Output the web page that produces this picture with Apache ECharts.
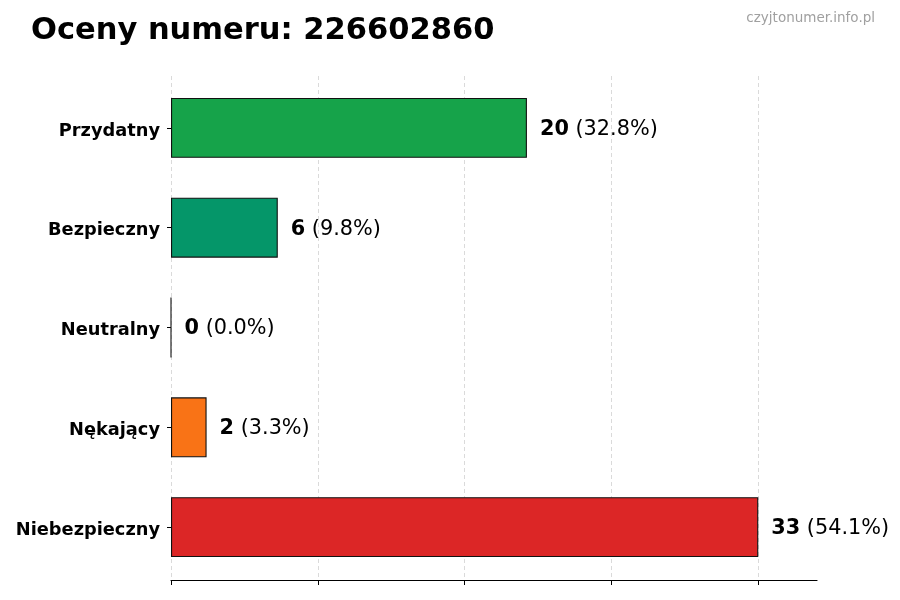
<!DOCTYPE html>
<html>
<head>
<meta charset="utf-8">
<script src="https://cdn.jsdelivr.net/npm/echarts@6/dist/echarts.min.js"></script>
<style>
  html, body { margin: 0; padding: 0; background: #fff; }
  #chart { width: 900px; height: 600px; }
</style>
</head>
<body>
<div id="chart"></div>
<script>
// dane
const categories = ['Przydatny', 'Bezpieczny', 'Neutralny', 'Nękający', 'Niebezpieczny'];
const counts = [20, 6, 0, 2, 33];
const barColors = ['#16a34a', '#059669', '#9ca3af', '#f97316', '#dc2626'];
const titleText = 'Oceny numeru: 226602860';
const siteText = 'czyjtonumer.info.pl';

const total = counts.reduce((a, b) => a + b, 0);
const maxCount = Math.max(...counts);
const axisMax = maxCount * 1.1;
const tickStep = maxCount / 4;

const chart = echarts.init(document.getElementById('chart'), null, { renderer: 'canvas' });

const FONT = '"DejaVu Sans", sans-serif';
const plotLeft = 171;
const plotWidth = 646;

const option = {
  backgroundColor: '#ffffff',
  animation: false,
  textStyle: { fontFamily: FONT },
  title: {
    text: titleText,
    left: 31,
    top: 16,
    padding: 0,
    textStyle: { fontFamily: FONT, fontSize: 30.5, fontWeight: 'bold', color: '#000' }
  },
  graphic: [{
    type: 'text',
    right: 25,
    top: 11,
    style: { text: siteText, fontFamily: FONT, fontSize: 13.5, fill: '#a0a0a0' }
  }],
  grid: [
    // dane
    { left: plotLeft, width: plotWidth, top: 78, bottom: 23 },
    // siatka i znaczniki co tickStep
    { left: plotLeft, width: plotWidth * maxCount / axisMax, top: 76, bottom: 20 }
  ],
  xAxis: [{
    gridIndex: 0,
    type: 'value',
    min: 0,
    max: axisMax,
    offset: 3,
    axisLine: { show: true, lineStyle: { color: '#000', width: 1.2 } },
    axisTick: { show: false },
    axisLabel: { show: false },
    splitLine: { show: false }
  }, {
    gridIndex: 1,
    type: 'value',
    min: 0,
    max: maxCount,
    interval: tickStep,
    axisLine: { show: false },
    axisTick: { show: true, length: 5, lineStyle: { color: '#000', width: 1 } },
    axisLabel: { show: false },
    splitLine: { show: true, lineStyle: { color: '#d0d0d0', type: [4, 3], width: 0.8 } }
  }],
  yAxis: [{
    gridIndex: 0,
    type: 'category',
    data: categories,
    inverse: true,
    axisLine: { show: false },
    axisTick: { show: true, alignWithLabel: true, length: 4, lineStyle: { color: '#000', width: 1 } },
    axisLabel: {
      margin: 11,
      formatter: '{c|{value}}',
      rich: {
        c: {
          padding: [6, 0, 0, 0],
          fontFamily: FONT,
          fontSize: 17.8,
          fontWeight: 'bold',
          color: '#000'
        }
      }
    },
    splitLine: { show: false }
  }, {
    gridIndex: 1,
    type: 'value',
    show: false
  }],
  series: [{
    type: 'bar',
    xAxisIndex: 0,
    yAxisIndex: 0,
    barWidth: '60%',
    data: counts.map((v, i) => ({
      value: v,
      itemStyle: { color: barColors[i], borderColor: '#111', borderWidth: 1.1 }
    })),
    label: {
      show: true,
      position: 'right',
      distance: 13,
      padding: [3, 0, 0, 0],
      formatter: (p) => '{b|' + p.value + '}{n| (' + (p.value / total * 100).toFixed(1) + '%)}',
      rich: {
        b: { fontFamily: FONT, fontSize: 20.8, fontWeight: 'bold', color: '#000' },
        n: { fontFamily: FONT, fontSize: 20.8, color: '#000' }
      }
    }
  }]
};

chart.setOption(option);
</script>
</body>
</html>
